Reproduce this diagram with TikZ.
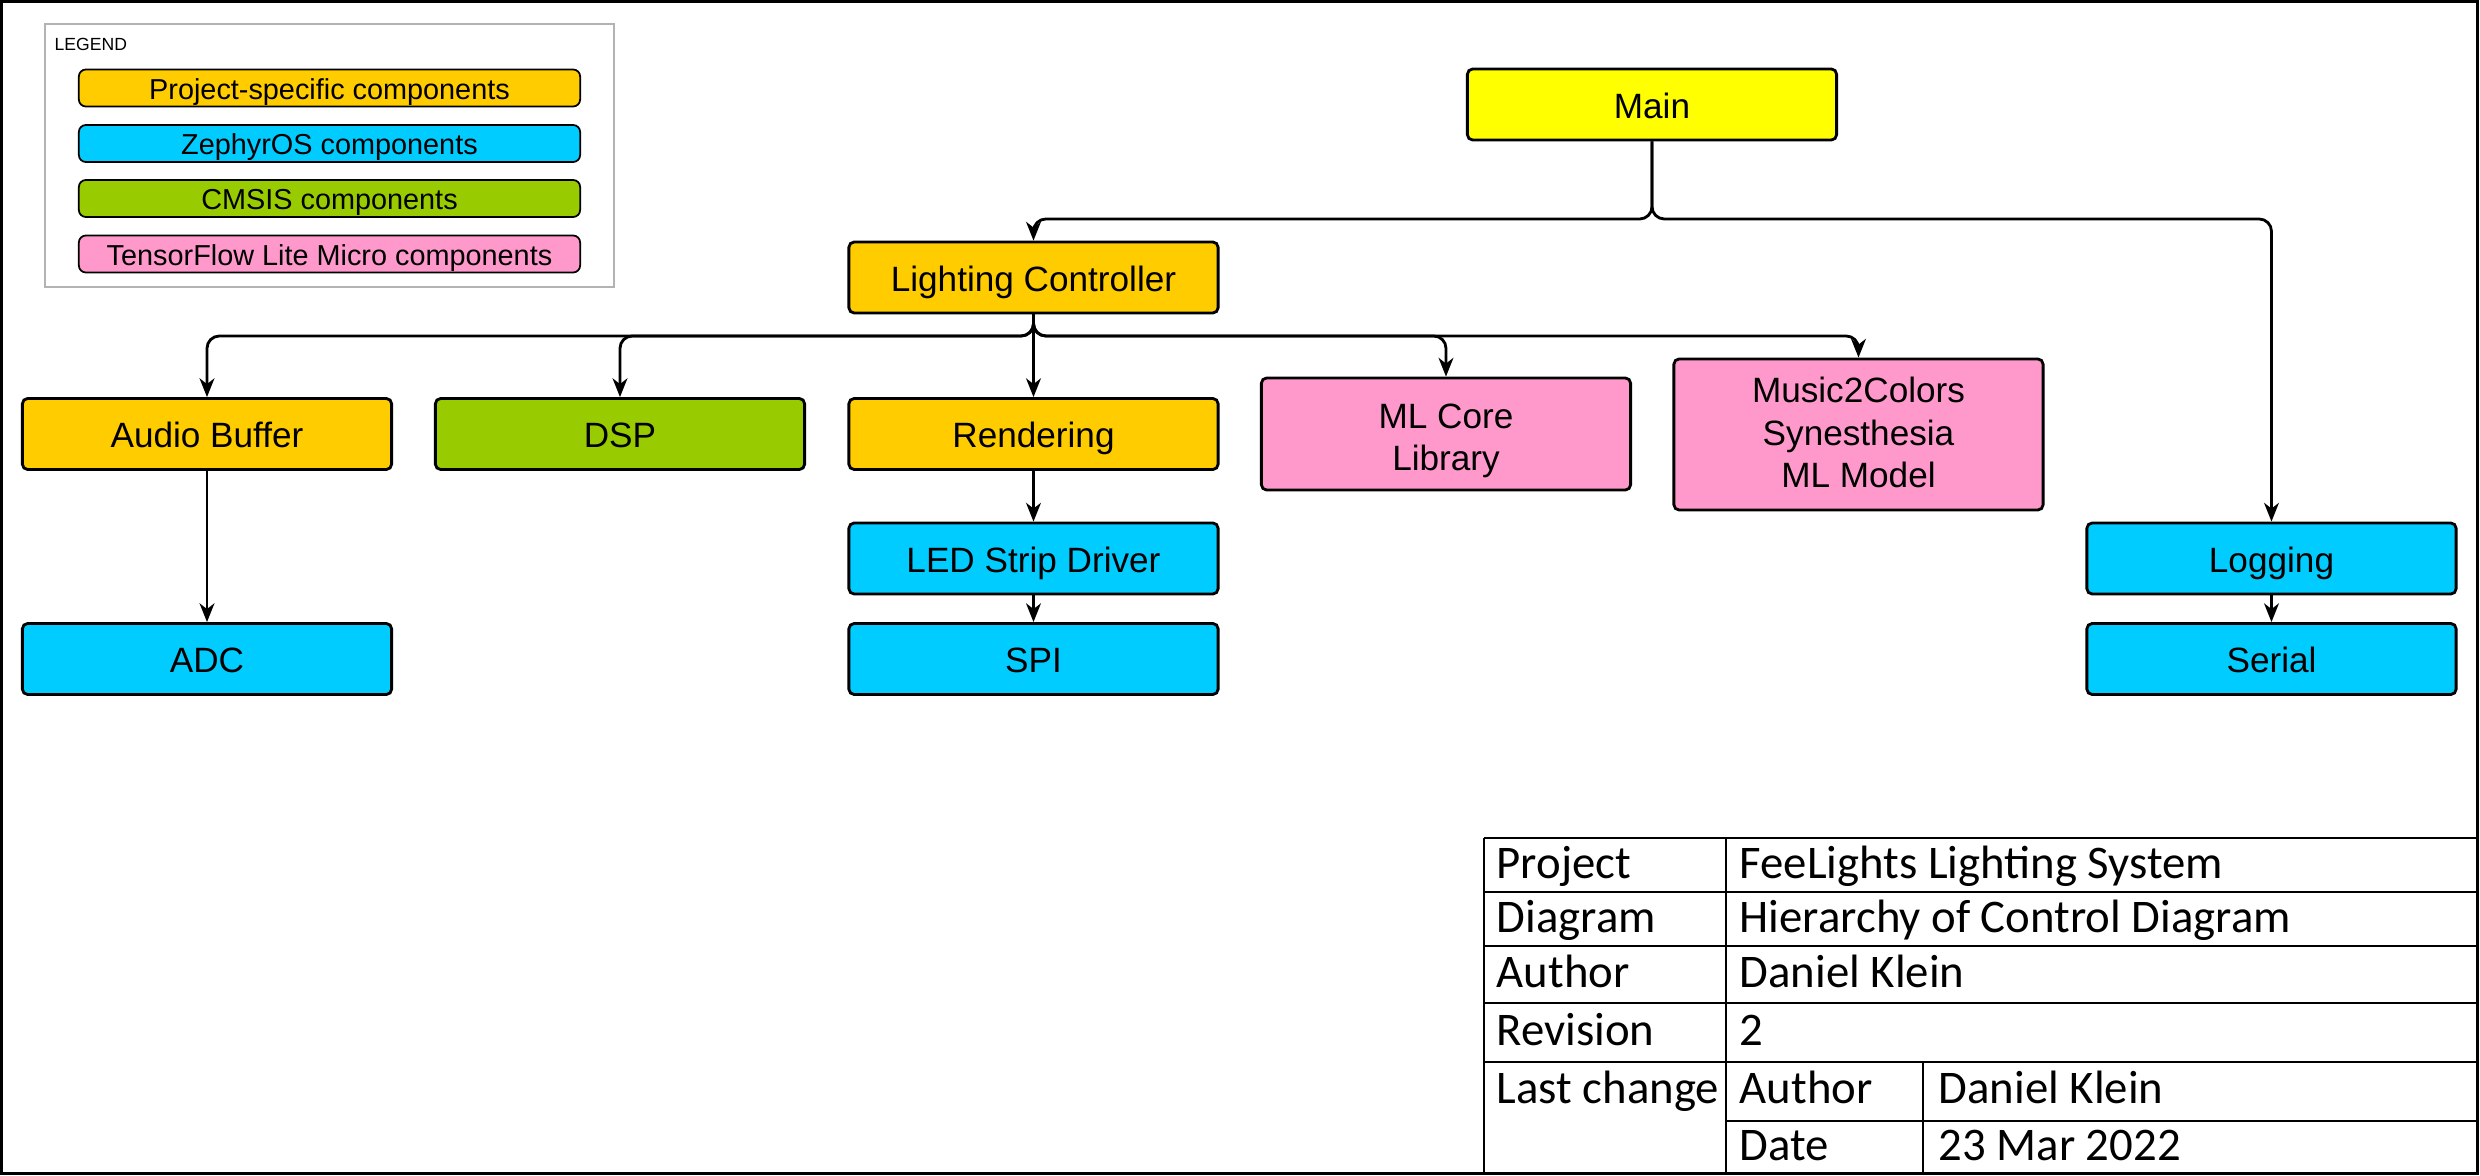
\documentclass[tikz,border=0pt]{standalone}
\usepackage{fontspec}
\setmainfont{Liberation Sans}
\newfontfamily\tbfont{Carlito}
\usetikzlibrary{arrows.meta}
\definecolor{mainyellow}{RGB}{255,255,0}
\definecolor{projorange}{RGB}{255,204,0}
\definecolor{zephyrblue}{RGB}{0,204,255}
\definecolor{cmsisgreen}{RGB}{153,204,0}
\definecolor{tflmpink}{RGB}{255,153,204}
\definecolor{legendgray}{RGB}{179,179,179}
\newcommand{\boxstrut}[1][0pt]{\rule[-0.212em]{0pt}{\dimexpr1.117em+#1\relax}}
\begin{document}
\begin{tikzpicture}[x=0.01cm,y=-0.01cm,
	comp/.style={draw,line width=0.8pt,rounded corners=1.5pt,minimum width=3.69cm,minimum height=0.71cm,inner sep=0pt,align=center,font=\fontsize{10}{12}\selectfont,execute at begin node={\boxstrut[0.9pt]},execute at end node={\boxstrut}},
	legitem/.style={draw,line width=0.5pt,rounded corners=2pt,minimum width=5.01cm,minimum height=0.37cm,inner sep=0pt,font=\fontsize{8.2}{9.8}\selectfont,execute at begin node={\boxstrut[0.6pt]}},
	arr/.style={-{Stealth[length=5.3pt,width=4.2pt,inset=1.6pt]},line width=0.8pt,rounded corners=3.5pt},
	tbtext/.style={anchor=base west,inner sep=0pt,font=\tbfont\fontsize{13.3}{15}\selectfont},
	tbline/.style={line width=0.7pt}]
			\useasboundingbox (0,0) rectangle (2480,1176);
			\draw[line width=0.85pt] (1.5,1.5) rectangle (2477.5,1173.5); % khung ngoai
			% legend
			\node[draw=legendgray,line width=0.6pt,minimum width=5.685cm,minimum height=2.63cm,inner sep=0pt] (legend) at (329.75,155.5) {};
			\node[anchor=west,inner sep=0pt,font=\fontsize{5}{6}\selectfont] (legendtitle) at (54,44) {LEGEND};
			\node[legitem,fill=projorange] (legproj) at (329.5,88) {Project-specific components};
			\node[legitem,fill=zephyrblue] (legzeph) at (329.5,143.5) {ZephyrOS components};
			\node[legitem,fill=cmsisgreen] (legcmsis) at (329.5,198.5) {CMSIS components};
			\node[legitem,fill=tflmpink] (legtflm) at (329.5,254) {TensorFlow Lite Micro components};
			% components
			\node[comp,fill=mainyellow] (main) at (1652,104.5) {Main};
			\node[comp,fill=projorange] (lightctl) at (1033.5,277.5) {Lighting Controller};
			\node[comp,fill=projorange] (audiobuf) at (207,434) {Audio Buffer};
			\node[comp,fill=cmsisgreen] (dsp) at (620,434) {DSP};
			\node[comp,fill=projorange] (render) at (1033.5,434) {Rendering};
			\node[comp,fill=tflmpink,minimum height=1.12cm] (mlcore) at (1446,434) {\rule{0pt}{1.085em}ML Core\\Library};
			\node[comp,fill=tflmpink,minimum height=1.51cm] (m2c) at (1858.5,434.5) {\rule{0pt}{0.82em}Music2Colors\\Synesthesia\\ML Model};
			\node[comp,fill=zephyrblue] (ledstrip) at (1033.5,558.5) {LED Strip Driver};
			\node[comp,fill=zephyrblue] (spi) at (1033.5,659) {SPI};
			\node[comp,fill=zephyrblue] (adc) at (207,659) {ADC};
			\node[comp,fill=zephyrblue] (logging) at (2271.5,558.5) {Logging};
			\node[comp,fill=zephyrblue] (serial) at (2271.5,659) {Serial};
			% connectors
			\coordinate (bus1) at (0,219);
			\coordinate (bus2) at (0,336);
			\draw[arr] (main.south) -- (main.south |- bus1) -| (lightctl.north);
			\draw[arr] (main.south) -- (main.south |- bus1) -| (logging.north);
			\draw[arr] (lightctl.south) -- (lightctl.south |- bus2) -| (audiobuf.north);
			\draw[arr] (lightctl.south) -- (lightctl.south |- bus2) -| (dsp.north);
			\draw[arr] (lightctl.south) -- (render.north);
			\draw[arr] (lightctl.south) -- (lightctl.south |- bus2) -| (mlcore.north);
			\draw[arr] (lightctl.south) -- (lightctl.south |- bus2) -| (m2c.north);
			\draw[arr] (audiobuf.south) -- (adc.north);
			\draw[arr] (render.south) -- (ledstrip.north);
			\draw[arr] (ledstrip.south) -- (spi.north);
			\draw[arr] (logging.south) -- (serial.north);
			% title block
			\foreach \y in {838,892,946,1003,1062} \draw[tbline] (1484,\y) -- (2477,\y);
			\draw[tbline] (1726,1121) -- (2477,1121);
			\draw[tbline] (1484,838) -- (1484,1173.5) (1726,838) -- (1726,1173.5) (1923,1062) -- (1923,1173.5);
			\node[tbtext] (tbproj) at (1496,878) {Project};
			\node[tbtext] (tbprojv) at (1739,878) {FeeLights Lighting System};
			\node[tbtext] (tbdiag) at (1496,932) {Diagram};
			\node[tbtext] (tbdiagv) at (1739,932) {Hierarchy of Control Diagram};
			\node[tbtext] (tbauth) at (1496,987) {Author};
			\node[tbtext] (tbauthv) at (1739,987) {Daniel Klein};
			\node[tbtext] (tbrev) at (1496,1045) {Revision};
			\node[tbtext] (tbrevv) at (1739,1045) {2};
			\node[tbtext] (tblast) at (1496,1103) {Last change};
			\node[tbtext] (tblauth) at (1739,1103) {Author};
			\node[tbtext] (tblauthv) at (1938,1103) {Daniel Klein};
			\node[tbtext] (tbdate) at (1739,1160) {Date};
			\node[tbtext] (tbdatev) at (1938,1160) {23 Mar 2022};
\end{tikzpicture}
\end{document}
